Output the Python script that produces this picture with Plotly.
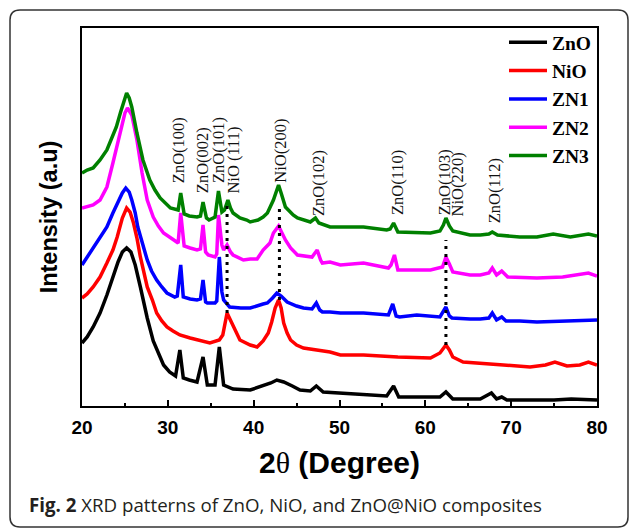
import plotly.graph_objects as go

# ---------------- data ----------------
zno_x = [20.0, 20.6, 21.3, 22.1, 22.9, 23.6, 24.2, 24.7, 25.2, 25.7, 26.2, 26.8, 27.6, 28.3, 29.0, 29.5,
         30.2, 30.9, 31.4, 31.8, 32.5, 33.4, 34.1, 34.6, 35.5, 36.0, 36.5, 37.6, 39.6, 41.1, 42.0, 42.7,
         43.5, 44.5, 45.4, 46.6, 47.3, 48.1, 50.1, 52.8, 55.5, 56.3, 56.9, 59.0, 61.7, 62.4, 63.2, 65.2,
         66.4, 67.7, 68.3, 68.9, 69.5, 72.0, 75.0, 77.0, 80.0]
zno_y = [63, 69, 79, 93, 111, 129, 144, 154, 158, 154, 141, 119, 88, 65, 51, 41,
         34, 30, 56, 28, 26, 24, 49, 21, 21, 59, 21, 17, 16, 20, 23, 26,
         24, 20, 16, 15, 20, 14, 13, 12, 10, 20, 9, 9, 9, 14, 7, 7,
         7, 13, 7, 9, 6, 6, 6, 7, 6]

nio_x = [20.0, 20.6, 21.3, 22.1, 22.9, 23.6, 24.1, 24.7, 25.2, 25.6, 26.0, 26.4, 26.8, 27.2, 27.6, 28.2,
         28.7, 29.3, 29.9, 30.6, 31.4, 32.6, 33.4, 34.9, 36.0, 36.4, 36.9, 37.3, 37.6, 38.0, 38.4, 39.6,
         40.4, 41.1, 41.7, 42.1, 42.5, 42.9, 43.2, 43.5, 43.9, 44.3, 45.0, 45.8, 48.9, 50.1, 52.8, 56.8,
         60.6, 61.7, 62.1, 62.4, 62.8, 63.2, 64.4, 66.4, 69.1, 72.2, 74.0, 75.1, 76.5, 78.0, 79.0, 80.0]
nio_y = [108, 112, 119, 129, 143, 156, 169, 188, 198, 194, 183, 168, 149, 134, 119, 106,
         93, 85, 79, 75, 71, 68, 66, 63, 66, 71, 93, 86, 79, 73, 66, 61,
         59, 65, 73, 84, 98, 106, 98, 83, 73, 66, 61, 58, 54, 51, 51, 49,
         48, 53, 58, 61, 56, 49, 44, 43, 41, 39, 41, 44, 40, 41, 44, 41]

zn1_x = [20.0, 20.6, 21.3, 22.1, 22.9, 23.6, 24.1, 24.7, 25.1, 25.5, 25.8, 26.2, 26.5, 27.0, 27.6, 28.1,
         28.7, 29.3, 29.9, 30.8, 31.1, 31.5, 31.8, 32.6, 33.4, 33.8, 34.1, 34.4, 34.6, 35.5, 35.7, 36.0,
         36.3, 36.5, 37.2, 38.5, 39.6, 41.1, 41.6, 42.2, 42.7, 43.2, 43.9, 45.0, 45.8, 46.8, 47.3, 47.7,
         48.0, 48.9, 50.1, 52.8, 55.7, 56.2, 56.6, 57.0, 59.0, 61.7, 62.4, 62.8, 63.1, 65.2, 66.4, 67.4,
         67.8, 68.3, 68.9, 69.4, 71.0, 73.0, 77.0, 80.0]
zn1_y = [141, 149, 159, 169, 179, 193, 203, 213, 218, 214, 206, 193, 179, 163, 146, 135,
         126, 119, 113, 109, 110, 141, 109, 107, 106, 107, 126, 104, 103, 103, 105, 149,
         114, 106, 99, 98, 98, 102, 103, 108, 113, 110, 104, 100, 98, 97, 103, 96,
         94, 94, 93, 93, 91, 102, 90, 89, 91, 89, 99, 90, 88, 87, 87, 88,
         93, 86, 89, 85, 85, 84, 85, 86]

zn2_x = [20.0, 20.6, 21.3, 22.1, 22.9, 23.6, 24.4, 25.0, 25.3, 25.8, 26.4, 27.0, 27.6, 28.3, 28.9, 29.5,
         30.7, 31.2, 31.5, 31.9, 32.6, 33.4, 33.8, 34.1, 34.4, 34.7, 35.5, 35.7, 35.9, 36.3, 36.5, 36.9,
         37.3, 37.6, 38.8, 39.6, 40.4, 41.1, 41.9, 42.3, 42.9, 43.3, 43.7, 44.3, 45.1, 46.8, 47.4, 47.8,
         48.0, 48.9, 50.1, 52.8, 55.7, 56.0, 56.4, 56.8, 58.0, 60.6, 62.0, 62.4, 62.8, 63.2, 65.2, 66.4,
         67.4, 67.8, 68.3, 68.9, 69.6, 73.0, 76.0, 79.0, 80.0]
zn2_y = [198, 199, 201, 206, 219, 243, 273, 293, 298, 291, 266, 233, 206, 189, 180, 173,
         166, 163, 193, 160, 158, 156, 157, 181, 154, 151, 149, 152, 191, 161, 156, 161,
         154, 151, 146, 147, 147, 156, 163, 173, 180, 173, 166, 158, 151, 149, 156, 146,
         143, 144, 141, 143, 138, 141, 151, 136, 136, 136, 139, 149, 142, 134, 131, 131,
         133, 138, 131, 135, 129, 128, 129, 133, 130]

zn3_x = [20.0, 20.6, 21.3, 22.1, 22.9, 23.6, 24.0, 24.5, 24.8, 25.2, 25.5, 25.8, 26.4, 27.1, 27.9, 28.5,
         29.1, 30.3, 31.2, 31.5, 31.9, 32.5, 33.4, 33.8, 34.1, 34.5, 34.8, 35.5, 35.9, 36.3, 36.6, 37.0,
         37.3, 37.6, 38.4, 39.2, 39.6, 40.5, 41.1, 41.6, 42.3, 42.6, 42.9, 43.2, 43.7, 44.6, 45.1, 46.6,
         47.2, 47.6, 48.9, 50.1, 52.8, 55.5, 55.9, 56.3, 56.8, 60.6, 61.7, 62.1, 62.4, 62.8, 63.2, 65.2,
         66.4, 67.4, 67.8, 68.4, 71.0, 73.0, 74.9, 76.9, 79.0, 80.0]
zn3_y = [233, 236, 238, 246, 256, 270, 279, 294, 303, 313, 308, 299, 273, 246, 226, 216,
         208, 198, 196, 213, 192, 190, 189, 190, 204, 188, 186, 189, 215, 194, 196, 206,
         198, 193, 188, 186, 184, 186, 189, 193, 206, 213, 221, 213, 199, 191, 188, 184,
         188, 183, 179, 179, 179, 176, 177, 183, 174, 173, 175, 181, 188, 180, 175, 171,
         171, 172, 174, 171, 169, 169, 172, 169, 172, 170]

series_names = ["ZnO", "NiO", "ZN1", "ZN2", "ZN3"]
series_colors = ["#000000", "#ff0000", "#0000ff", "#ff00ff", "#008000"]
series_x = [zno_x, nio_x, zn1_x, zn2_x, zn3_x]
series_y = [zno_y, nio_y, zn1_y, zn2_y, zn3_y]

# dotted guide lines at the NiO reflections
guide_x = [36.9, 43.0, 62.4]
guide_top = [201, 202, 166]
guide_bottom = [93, 106, 61]

# reflection labels
label_text = ["ZnO(100)", "ZnO(002)", "ZnO(101)", "NiO (111)", "NiO(200)",
              "ZnO(102)", "ZnO(110)", "ZnO(103)", "NiO(220)", "ZnO(112)"]
label_x = [31.2, 34.0, 35.85, 37.6, 43.1, 47.5, 56.7, 62.2, 63.8, 68.1]
label_y = [256, 246, 256, 245.5, 255.5, 223, 223, 224, 221.5, 215.5]

x_ticks = [20, 30, 40, 50, 60, 70, 80]

# ---------------- figure ----------------
W, H = 629, 528
L, R, T, B = 82, 32, 28, 122

fig = go.Figure()
for name, col, xs, ys in zip(series_names, series_colors, series_x, series_y):
    fig.add_trace(go.Scatter(x=xs, y=ys, mode="lines", name=name,
                             line=dict(color=col, width=3.5)))

for gx, gt, gb in zip(guide_x, guide_top, guide_bottom):
    fig.add_trace(go.Scatter(x=[gx, gx], y=[gb, gt], mode="lines", showlegend=False,
                             hoverinfo="skip",
                             line=dict(color="#000000", width=3, dash="3px,5px")))

for t, x, y in zip(label_text, label_x, label_y):
    fig.add_annotation(x=x, y=y, xref="x", yref="y", text=t, showarrow=False,
                       textangle=-90, xanchor="center", yanchor="middle",
                       font=dict(family="Liberation Serif", size=16.5, color="#111111"))

# outer rounded frame (pixel -> paper)
def px(xp):
    return (xp - L) / (W - L - R)

def py(yp):
    return (H - B - yp) / (H - T - B)

x0, x1, y0, y1, rr = 10, 628, 10, 527, 10
path = (f"M {px(x0 + rr)},{py(y0)} L {px(x1 - rr)},{py(y0)} "
        f"Q {px(x1)},{py(y0)} {px(x1)},{py(y0 + rr)} "
        f"L {px(x1)},{py(y1 - rr)} Q {px(x1)},{py(y1)} {px(x1 - rr)},{py(y1)} "
        f"L {px(x0 + rr)},{py(y1)} Q {px(x0)},{py(y1)} {px(x0)},{py(y1 - rr)} "
        f"L {px(x0)},{py(y0 + rr)} Q {px(x0)},{py(y0)} {px(x0 + rr)},{py(y0)} Z")
fig.add_shape(type="path", path=path, xref="paper", yref="paper",
              line=dict(color="#333333", width=1.5), layer="above")

# caption
fig.add_annotation(x=px(27), y=py(504), xref="paper", yref="paper", xanchor="left",
                   yanchor="middle", showarrow=False,
                   text="<b>Fig. 2</b> XRD patterns of ZnO, NiO, and ZnO@NiO composites",
                   font=dict(family="Open Sans", size=18.7, color="#231f20"))

fig.update_layout(
    width=W, height=H,
    margin=dict(l=L, r=R, t=T, b=B, autoexpand=False),
    paper_bgcolor="white", plot_bgcolor="white",
    showlegend=True,
    legend=dict(x=1, y=1 + 5 / 378, xanchor="right", yanchor="top",
                bgcolor="rgba(0,0,0,0)", borderwidth=0,
                font=dict(family="Liberation Serif", size=19.5, color="black", weight="bold"),
                itemwidth=38, tracegroupgap=0),
    xaxis=dict(range=[20, 80], tickvals=x_ticks, ticktext=[str(v) for v in x_ticks],
               ticks="inside", ticklen=6, tickwidth=2, tickcolor="black",
               minor=dict(ticks="inside", ticklen=3.5, tickwidth=2, tickcolor="black", dtick=5),
               showline=True, linecolor="black", linewidth=2, mirror=True,
               showgrid=False, zeroline=False, ticklabelstandoff=3,
               tickfont=dict(family="Liberation Sans", size=19, color="black", weight="bold"),
               title=dict(text="2<span style='font-family:Liberation Serif;font-weight:normal'>θ</span> (Degree)",
                          font=dict(family="Liberation Sans", size=30, color="black", weight="bold"),
                          standoff=15)),
    yaxis=dict(range=[0, 378], showticklabels=False, ticks="",
               showline=True, linecolor="black", linewidth=2, mirror=True,
               showgrid=False, zeroline=False,
               title=dict(text="Intensity (a.u)",
                          font=dict(family="Liberation Sans", size=23.5, color="black", weight="bold"),
                          standoff=16)),
)

fig.write_html("out.html", config={"displayModeBar": False},
               post_script="document.body.style.margin='0px';")
